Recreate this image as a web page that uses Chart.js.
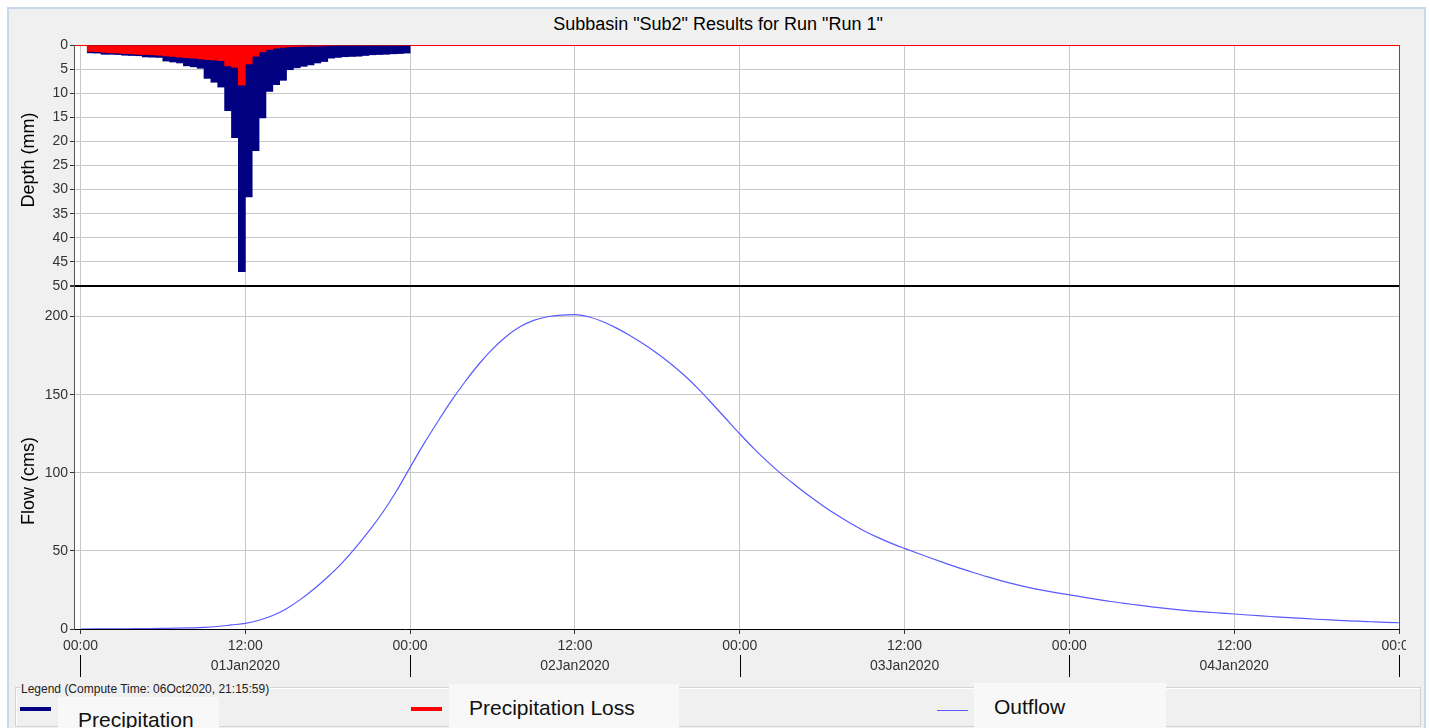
<!DOCTYPE html>
<html>
<head>
<meta charset="utf-8">
<title>Subbasin Sub2 Results</title>
<script src="https://cdn.jsdelivr.net/npm/chart.js@4.4.1/dist/chart.umd.min.js"></script>
<style>
  html, body { margin: 0; padding: 0; background: #fff; }
  body { width: 1430px; height: 728px; position: relative; overflow: hidden; font-family: "Liberation Sans", Arial, sans-serif; }
  #panel { position: absolute; left: 7px; top: 7px; width: 1415px; height: 721px; background: #f0f0f0; border: 2px solid #c4d8ee; border-bottom: none; }
  #wrap { position: absolute; left: 0; top: 0; width: 1406px; height: 728px; overflow: hidden; }
  #title { position: absolute; left: 418px; top: 13px; width: 600px; text-align: center; font-size: 18px; line-height: 22px; color: #000; }
  .legendBox { position: absolute; left: 15px; top: 687px; width: 1404px; height: 38px; border: 1px solid #d4d4d4; box-shadow: inset 1px 1px 0 #fff; }
  .legendHead { position: absolute; left: 20px; top: 682px; font-size: 12px; line-height: 14px; color: #222; background: #f0f0f0; padding: 0 1px; }
  .swatch { position: absolute; }
  .tag { position: absolute; background: #f8f8f8; font-size: 21px; color: #111; padding-left: 20px; box-sizing: border-box; white-space: nowrap; }
</style>
</head>
<body>
<div id="panel"></div>
<div id="title">Subbasin "Sub2" Results for Run "Run 1"</div>
<div id="wrap"><canvas id="hmsChart" width="1406" height="728"></canvas></div>

<div class="legendBox"></div>
<div class="legendHead">Legend (Compute Time: 06Oct2020, 21:15:59)</div>
<div class="swatch" style="left:20px;top:707px;width:31px;height:4px;background:#000080"></div>
<div class="tag" style="left:58px;top:697px;width:161px;height:40px;line-height:46px">Precipitation</div>
<div class="swatch" style="left:411px;top:707px;width:31px;height:4px;background:#ff0000"></div>
<div class="tag" style="left:449px;top:684px;width:230px;height:44px;line-height:48px">Precipitation Loss</div>
<div class="swatch" style="left:937px;top:710px;width:31px;height:1px;background:#5a5aff"></div>
<div class="tag" style="left:974px;top:683px;width:192px;height:45px;line-height:48px">Outflow</div>

<script>
// precipitation intervals (30 min), hour at the end of each interval
var precipHours = [1, 1.5, 2, 2.5, 3, 3.5, 4, 4.5, 5, 5.5, 6, 6.5, 7, 7.5, 8, 8.5,
    9, 9.5, 10, 10.5, 11, 11.5, 12, 12.5, 13, 13.5, 14, 14.5, 15, 15.5, 16, 16.5,
    17, 17.5, 18, 18.5, 19, 19.5, 20, 20.5, 21, 21.5, 22, 22.5, 23, 23.5, 24];
var precipDepth = [1.7, 1.75, 2.0, 2.0, 2.05, 2.2, 2.25, 2.3, 2.55, 2.6, 2.65, 3.4,
    3.6, 3.8, 4.4, 4.6, 4.9, 7.0, 7.8, 8.8, 13.7, 19.3, 47.1, 31.6, 22.0, 15.2,
    9.7, 8.3, 7.4, 5.2, 4.8, 4.5, 4.2, 3.8, 3.5, 2.8, 2.65, 2.5, 2.45, 2.4, 2.25,
    2.1, 2.05, 2.0, 1.9, 1.85, 1.75];
var lossDepth = [1.4, 1.45, 1.6, 1.7, 1.75, 1.85, 1.9, 2.0, 2.05, 2.1, 2.2, 2.35,
    2.45, 2.6, 2.7, 2.8, 2.95, 3.1, 3.2, 3.3, 4.4, 4.7, 8.4, 4.0, 2.4, 1.5, 1.0,
    0.7, 0.55, 0.45, 0.4, 0.35, 0.3, 0.3, 0.25, 0.2, 0.15, 0.15, 0.15, 0.15, 0.15,
    0.15, 0.15, 0.15, 0.15, 0.15, 0.15];

// outflow, hourly from 01Jan2020 00:00
var flowHours = [0, 1, 2, 3, 4, 5, 6, 7, 8, 9, 10, 11, 12, 13, 14, 15, 16, 17, 18,
    19, 20, 21, 22, 23, 24, 25, 26, 27, 28, 29, 30, 31, 32, 33, 34, 35, 36, 37, 38,
    39, 40, 41, 42, 43, 44, 45, 46, 47, 48, 49, 50, 51, 52, 53, 54, 55, 56, 57, 58,
    59, 60, 61, 62, 63, 64, 65, 66, 67, 68, 69, 70, 71, 72, 73, 74, 75, 76, 77, 78,
    79, 80, 81, 82, 83, 84, 85, 86, 87, 88, 89, 90, 91, 92, 93, 94, 95, 96];
var outflow = [0, 0.05, 0.1, 0.15, 0.2, 0.3, 0.4, 0.5, 0.7, 1.0, 1.6, 2.6, 3.6,
    5.6, 8.6, 13.0, 18.8, 25.6, 33.3, 41.9, 51.8, 62.6, 74.6, 88.2, 103.5, 118.5,
    132.5, 146, 158.3, 169.5, 179.2, 187.3, 193.5, 197.6, 199.9, 201.0, 201.3, 199.9,
    196.9, 192.8, 187.9, 182.4, 176.4, 169.7, 162.1, 153.6, 144.2, 134.6, 125, 115.8,
    107.3, 99.5, 92.4, 85.6, 79.3, 73.4, 68.0, 63.1, 58.8, 55.0, 51.6, 48.3, 45.1, 42.0, 39.0,
    36.2, 33.5, 31.0, 28.7, 26.7, 24.9, 23.3, 21.9, 20.4, 19.0, 17.6, 16.4, 15.3,
    14.2, 13.2, 12.3, 11.5, 10.8, 10.2, 9.6, 8.95, 8.35, 7.8, 7.25, 6.75, 6.25, 5.8,
    5.4, 5.0, 4.65, 4.3, 4.0];

// axis ticks
var timeTicks = [0, 12, 24, 36, 48, 60, 72, 84, 96];
var timeLabels = ['00:00', '12:00', '00:00', '12:00', '00:00', '12:00', '00:00', '12:00', '00:00'];
var dateLabels = ['', '01Jan2020', '', '02Jan2020', '', '03Jan2020', '', '04Jan2020', ''];
var depthTicks = [0, 5, 10, 15, 20, 25, 30, 35, 40, 45, 50];
var flowTicks = [0, 50, 100, 150, 200];

var fontFamily = '"Liberation Sans", Arial, sans-serif';
Chart.defaults.font.family = fontFamily;

// bars are drawn over the half hour that ends at the time stamp
function intervalBars(values) {
    return values.map(function(v, i) { return { x: precipHours[i] - 0.25, y: v }; });
}

var hmsDecor = {
    id: 'hmsDecor',
    beforeDraw: function(chart) {
        var a = chart.chartArea, ctx = chart.ctx;
        ctx.save();
        ctx.fillStyle = '#fff';
        ctx.fillRect(a.left, a.top, a.right - a.left, a.bottom - a.top);
        ctx.restore();
    },
    afterDraw: function(chart) {
        var ctx = chart.ctx, x = chart.scales.x;
        ctx.save();
        // day separators under the time labels
        ctx.strokeStyle = '#000';
        ctx.lineWidth = 1;
        timeTicks.forEach(function(t) {
            if (t % 24 !== 0) return;
            var px = Math.round(x.getPixelForValue(t)) + 0.5;
            ctx.beginPath();
            ctx.moveTo(px, x.top + 26);
            ctx.lineTo(px, x.top + 48);
            ctx.stroke();
        });
        // axis titles
        ctx.fillStyle = '#000';
        ctx.font = '18px ' + fontFamily;
        ctx.textAlign = 'center';
        ctx.textBaseline = 'middle';
        [['Depth (mm)', 160], ['Flow (cms)', 481]].forEach(function(t) {
            ctx.save();
            ctx.translate(29, t[1]);
            ctx.rotate(-Math.PI / 2);
            ctx.fillText(t[0], 0, 0);
            ctx.restore();
        });
        ctx.restore();
    }
};

var ctx = document.getElementById('hmsChart').getContext('2d');
var hmsChart = new Chart(ctx, {
    type: 'line',
    data: {
        datasets: [
            {
                type: 'bar',
                label: 'Precipitation Loss',
                data: intervalBars(lossDepth),
                yAxisID: 'depth',
                backgroundColor: '#ff0000',
                borderWidth: 0,
                grouped: false,
                barPercentage: 1.12,
                categoryPercentage: 1,
                order: 0
            },
            {
                type: 'bar',
                label: 'Precipitation',
                data: intervalBars(precipDepth),
                yAxisID: 'depth',
                backgroundColor: '#000080',
                borderWidth: 0,
                grouped: false,
                barPercentage: 1.12,
                categoryPercentage: 1,
                order: 1
            },
            {
                type: 'line',
                label: 'Outflow',
                data: flowHours.map(function(h, i) { return { x: h, y: outflow[i] }; }),
                yAxisID: 'flow',
                borderColor: '#5a5aff',
                borderWidth: 1.2,
                pointRadius: 0,
                cubicInterpolationMode: 'monotone',
                order: 2
            }
        ]
    },
    options: {
        responsive: false,
        animation: false,
        devicePixelRatio: 1,
        layout: { padding: { top: 45, left: 0, right: 7, bottom: 44 } },
        plugins: {
            legend: { display: false },
            tooltip: { enabled: false },
            title: { display: false }
        },
        scales: {
            x: {
                type: 'linear',
                min: -0.47,
                max: 96,
                offset: false,
                afterBuildTicks: function(s) { s.ticks = timeTicks.map(function(v) { return { value: v }; }); },
                afterFit: function(s) { s.height = 55; s.paddingLeft = 0; s.paddingRight = 0; },
                grid: {
                    offset: false,
                    color: function(c) { return c.tick && c.tick.value === 96 ? '#555' : '#c8c8c8'; },
                    tickColor: '#333',
                    tickLength: 5
                },
                border: { color: '#000' },
                ticks: {
                    autoSkip: false,
                    maxRotation: 0,
                    padding: 2,
                    color: '#333',
                    font: { size: 14, lineHeight: 1.43 },
                    callback: function(value) {
                        var i = timeTicks.indexOf(value);
                        return [timeLabels[i], dateLabels[i]];
                    }
                }
            },
            flow: {
                type: 'linear',
                position: 'left',
                stack: 'hms',
                stackWeight: 343,
                weight: 0,
                min: 0,
                max: 219.6,
                afterBuildTicks: function(s) { s.ticks = flowTicks.map(function(v) { return { value: v }; }); },
                afterFit: function(s) { s.width = 74; },
                grid: { color: '#c8c8c8', tickColor: '#333', tickLength: 4 },
                border: { color: '#555' },
                ticks: { autoSkip: false, color: '#333', font: { size: 14 }, padding: 2 }
            },
            depth: {
                type: 'linear',
                position: 'left',
                stack: 'hms',
                stackWeight: 241,
                weight: 1,
                reverse: true,
                min: 0,
                max: 50,
                afterBuildTicks: function(s) { s.ticks = depthTicks.map(function(v) { return { value: v }; }); },
                afterFit: function(s) { s.width = 74; },
                grid: {
                    color: function(c) {
                        if (!c.tick) return '#c8c8c8';
                        if (c.tick.value === 0) return '#ff0000';
                        if (c.tick.value === 50) return '#000';
                        return '#c8c8c8';
                    },
                    lineWidth: function(c) { return c.tick && c.tick.value === 50 ? 2 : 1; },
                    tickColor: '#333',
                    tickLength: 4
                },
                border: { color: '#555' },
                ticks: { autoSkip: false, color: '#333', font: { size: 14 }, padding: 2 }
            }
        }
    },
    plugins: [hmsDecor]
});
</script>
</body>
</html>
